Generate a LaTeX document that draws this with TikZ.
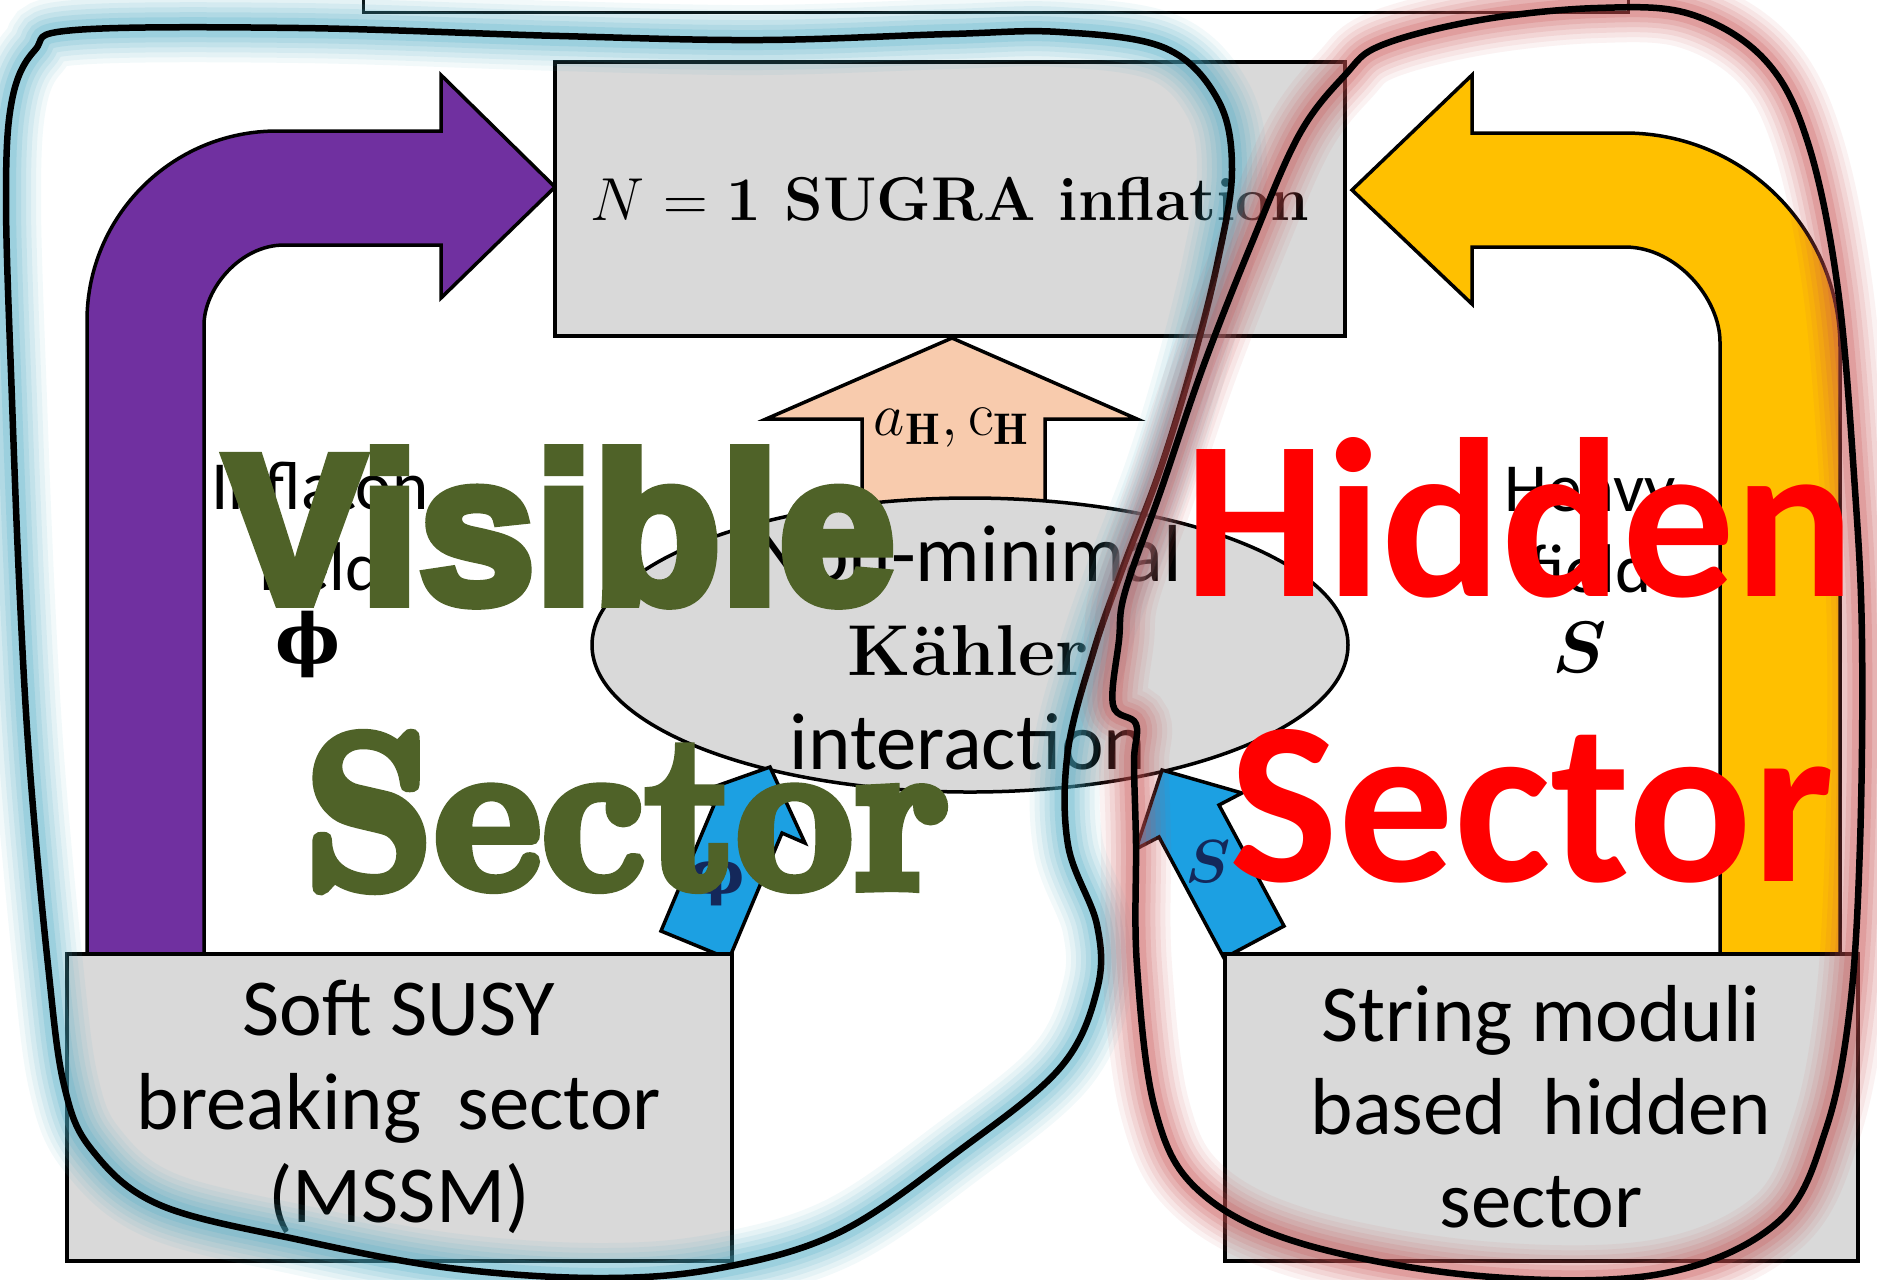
\documentclass[tikz,border=0pt]{standalone}
\usepackage{fontspec}
\usepackage{graphicx}
\usepackage{bm}
\setsansfont{Carlito}
\newfontfamily\visfont{Liberation Sans}[FakeBold=5]
\newfontfamily\sectfont{lmroman10-bold.otf}[FakeBold=5]
\newfontfamily\greekfont{DejaVu Serif}
\usetikzlibrary{shapes.geometric}
\definecolor{boxgray}{RGB}{217,217,217}
\definecolor{arrowpurple}{RGB}{112,48,160}
\definecolor{arrowyellow}{RGB}{255,192,0}
\definecolor{arrowpeach}{RGB}{248,203,173}
\definecolor{arrowblue}{RGB}{28,160,226}
\definecolor{labelnavy}{RGB}{20,40,90}
\definecolor{visgreen}{RGB}{79,98,40}
\definecolor{blueglow}{RGB}{75,172,198}
\definecolor{redglow}{RGB}{200,80,80}

\begin{document}
\begin{tikzpicture}[x=0.1mm,y=-0.1mm,
  box/.style={draw,fill=boxgray,line width=0.4mm,inner sep=0},
  blockarrow/.style={draw,line width=0.35mm,line join=miter},
  boxtext/.style={align=center,font=\sffamily\fontsize{23}{26.5}\selectfont},
  sidetext/.style={align=center,font=\sffamily\fontsize{19.6}{22.8}\selectfont},
  bigword/.style={inner sep=0}]
\useasboundingbox[fill=white] (0,0) rectangle (1877,1279);

\draw[line width=0.3mm] (363,-40) rectangle (1628,12);

\draw[blockarrow,fill=arrowpurple] (87,954) -- (87,321) .. controls (87,216) and (172,131) .. (277,131) -- (441,131) -- (441,75) -- (555,187) -- (441,298) -- (441,245) -- (284,245) .. controls (240,245) and (204,289) .. (204,325) -- (204,954) -- cycle;
\draw[blockarrow,fill=arrowyellow] (1720,954) -- (1720,342) .. controls (1720,299) and (1677,247) .. (1625,247) -- (1472,247) -- (1472,304) -- (1352,190) -- (1472,75) -- (1472,133) -- (1625,133) .. controls (1744,133) and (1840,229) .. (1840,348) -- (1840,954) -- cycle;
\draw[blockarrow,fill=arrowpeach] (862,520) -- (862,419) -- (766,419) -- (952,338) -- (1137,419) -- (1045,419) -- (1045,520) -- cycle;

\node[draw,ellipse,fill=boxgray,line width=0.35mm,minimum width=75.6mm,minimum height=29.4mm,inner sep=0] (kahler) at (970,645) {};

\draw[blockarrow,fill=arrowblue] (661,931) -- (714,805) -- (691,795) -- (770,767) -- (805,843) -- (782,833) -- (729,959) -- cycle;
\draw[blockarrow,fill=arrowblue] (1224,958) -- (1159,837) -- (1136,849) -- (1162,770) -- (1242,793) -- (1219,805) -- (1284,926) -- cycle;

\node[box,minimum width=79mm,minimum height=27.4mm,font=\fontsize{17.6}{20}\selectfont] (sugra) at (950,199) {$N$ = \textbf{1 SUGRA inflation}};
\node[box,boxtext,minimum width=66.5mm,minimum height=30.7mm] (soft) at (399,1107) {Soft SUSY\\breaking~~sector\\(MSSM)};
\node[box,boxtext,minimum width=63.3mm,minimum height=30.7mm] (string) at (1541,1107) {String moduli\\based~~hidden\\sector};

\node[align=center,font=\sffamily\fontsize{23}{26.7}\selectfont] (kahlertext) at (968,648) {Non-minimal\\{\rmfamily\bfseries\fontsize{20.5}{26.7}\selectfont Kähler}\\interaction};
\node[font=\fontsize{18}{20}\selectfont] (params) at (952,427) {$a_{\mathbf{H}},\mathrm{c}_{\mathbf{H}}$};
\node[sidetext] (inflaton) at (320,570) {Inflaton\\field\\[-2pt]\hspace*{-2.4mm}{\greekfont\bfseries ϕ}};
\node[sidetext] (heavy) at (1590,570) {Heavy\\field\\\hspace*{-2mm}$\bm{S}$};
\node[text=labelnavy,font=\fontsize{17}{20}\selectfont] (philabel) at (717,877) {\greekfont\bfseries ϕ};
\node[text=labelnavy,font=\fontsize{18}{20}\selectfont] (slabel) at (1208,862) {$\bm{S}$};

\foreach \c/\w/\o in {blueglow/7/.07,blueglow/6/.08,blueglow/5/.1,blueglow/4/.12,blueglow/3/.15,blueglow/2/.2,black/.65/1}
  \draw[\c,line width=\w mm,opacity=\o] plot[smooth cycle,tension=.6] coordinates {(75,30) (300,28) (560,36) (760,40) (950,34) (1060,32) (1165,48) (1218,100) (1232,170) (1218,260) (1192,365) (1160,470) (1122,570) (1094,650) (1068,750) (1068,845) (1097,925) (1097,990) (1060,1068) (960,1150) (840,1232) (720,1268) (600,1278) (450,1268) (300,1240) (160,1205) (92,1150) (64,1085) (48,965) (30,770) (20,600) (12,400) (6,200) (12,100) (35,50)};
\foreach \c/\w/\o in {redglow/7/.07,redglow/6/.08,redglow/5/.1,redglow/4/.12,redglow/3/.15,redglow/2/.2,black/.65/1}
  \draw[\c,line width=\w mm,opacity=\o] plot[smooth cycle,tension=.6] coordinates {(1382,45) (1480,20) (1597,8) (1690,14) (1765,60) (1808,143) (1838,290) (1855,490) (1862,640) (1860,844) (1850,1007) (1826,1129) (1778,1222) (1660,1274) (1480,1276) (1300,1243) (1198,1190) (1155,1109) (1137,966) (1136,844) (1134,762) (1136,724) (1113,705) (1119,640) (1125,592) (1161,490) (1203,367) (1251,245) (1299,135) (1345,75)};

\node[bigword,text=visgreen] (visible) at (560,527) {\resizebox{67mm}{15.3mm}{\fontsize{20}{20}\selectfont\visfont\bfseries Visible}};
\node[bigword,text=visgreen] (vissector) at (627,812) {\resizebox{64.5mm}{15.3mm}{\fontsize{20}{20}\selectfont\sectfont Sector}};
\node[bigword,text=red] (hidden) at (1520,518) {\resizebox{67mm}{15.9mm}{\sffamily\bfseries Hidden}};
\node[bigword,text=red] (hidsector) at (1532,806) {\resizebox{60.4mm}{15.2mm}{\sffamily\bfseries Sector}};
\end{tikzpicture}
\end{document}
